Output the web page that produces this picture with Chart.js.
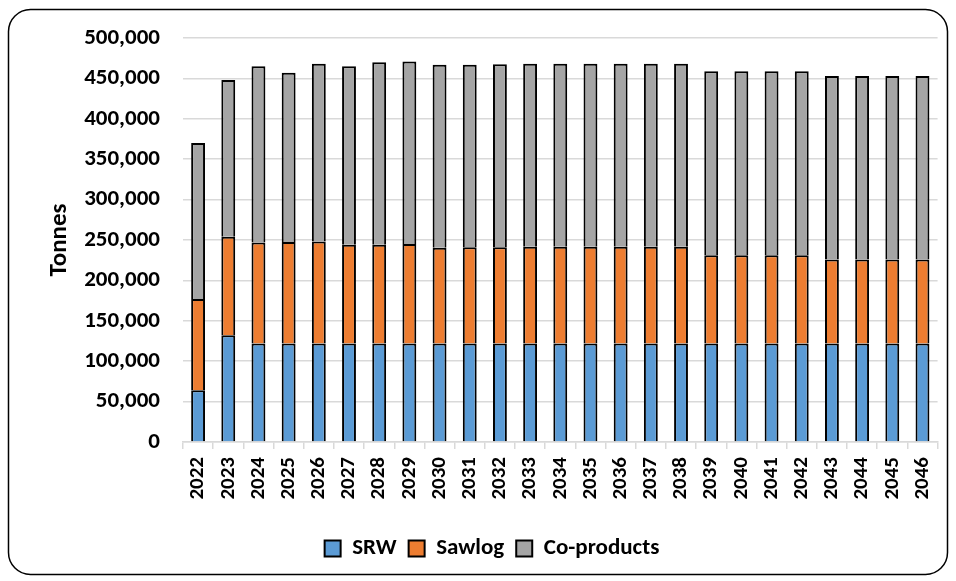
<!DOCTYPE html>
<html>
<head>
<meta charset="utf-8">
<script src="https://cdn.jsdelivr.net/npm/chart.js@4"></script>
<style>
  html, body { margin: 0; padding: 0; background: #fff; }
  #wrap { width: 956px; height: 581px; }
</style>
</head>
<body>
<div id="wrap"><canvas id="stackChart" width="956" height="581"></canvas></div>
<script>
const years = ["2022", "2023", "2024", "2025", "2026", "2027", "2028", "2029", "2030", "2031", "2032", "2033", "2034",
  "2035", "2036", "2037", "2038", "2039", "2040", "2041", "2042", "2043", "2044", "2045", "2046"];

const srw = [64000, 132000, 122000, 122000, 122000, 122000, 122000, 122000, 122000, 122000, 122000, 122000, 122000,
  122000, 122000, 122000, 122000, 122000, 122000, 122000, 122000, 122000, 122000, 122000, 122000];

const sawlog = [113000, 122000, 125000, 125500, 126000, 122000, 122000, 123000, 118500, 119000, 119000, 119500, 119500,
  119500, 119500, 119500, 119500, 109000, 109000, 109000, 109000, 104000, 104000, 104000, 104000];

const coProducts = [193000, 194000, 218000, 209500, 220000, 221000, 226000, 226000, 226500, 226000, 226500, 226500, 226500,
  226500, 226500, 226500, 226500, 227800, 227800, 227800, 227800, 227000, 227000, 227000, 227000];

const fontFamily = "Carlito, Lato, 'Liberation Sans', sans-serif";

// rounded frame around the whole chart
const frame = {
  id: "frame",
  beforeDraw(chart) {
    const c = chart.ctx;
    c.save();
    c.fillStyle = "#fff";
    c.fillRect(0, 0, chart.width, chart.height);
    c.beginPath();
    c.roundRect(8.5, 9.5, 939, 565, 22);
    c.lineWidth = 1.5;
    c.strokeStyle = "#000";
    c.stroke();
    c.restore();
  },
};

let ctx = document.getElementById("stackChart").getContext("2d");

const myChart = new Chart(ctx, {
  type: "bar",
  data: {
    labels: years,
    datasets: [
      { label: "SRW", data: srw, backgroundColor: "#5B9BD5" },
      { label: "Sawlog", data: sawlog, backgroundColor: "#ED7D31" },
      { label: "Co-products", data: coProducts, backgroundColor: "#A5A5A5" },
    ].map((d) => ({
      ...d,
      borderColor: "#000",
      borderWidth: 2,
      barPercentage: 0.46,
      categoryPercentage: 1,
    })),
  },
  options: {
    responsive: false,
    animation: false,
    layout: {
      padding: { top: 38, right: 16, left: 44, bottom: 11 },
    },
    plugins: {
      tooltip: { enabled: false },
      legend: {
        position: "bottom",
        labels: {
          color: "#000",
          font: { family: fontFamily, size: 23, weight: "bold" },
          boxWidth: 16,
          boxHeight: 16,
          padding: 12,
        },
      },
    },
    scales: {
      x: {
        stacked: true,
        afterFit: (s) => { s.height = 83; },
        grid: {
          offset: true,
          drawOnChartArea: false,
          drawTicks: true,
          tickLength: 7,
          color: "#d9d9d9",
          lineWidth: 1.5,
        },
        border: { display: true, color: "#d9d9d9", width: 1.5 },
        ticks: {
          color: "#000",
          font: { family: fontFamily, size: 21, weight: "bold" },
          maxRotation: 90,
          minRotation: 90,
          padding: 8,
          autoSkip: false,
        },
      },
      y: {
        stacked: true,
        min: 0,
        max: 500000,
        afterFit: (s) => { s.width = 139; },
        grid: { color: "#d9d9d9", lineWidth: 1.5, drawTicks: false },
        border: { display: false },
        ticks: {
          stepSize: 50000,
          color: "#000",
          padding: 23,
          font: { family: fontFamily, size: 23, weight: "bold" },
          callback: (v) => v.toLocaleString("en-US"),
        },
        title: {
          display: true,
          text: "Tonnes",
          color: "#000",
          font: { family: fontFamily, size: 25, weight: "bold" },
          padding: { top: 1, bottom: 0 },
        },
      },
    },
  },
  plugins: [frame],
});
</script>
</body>
</html>
